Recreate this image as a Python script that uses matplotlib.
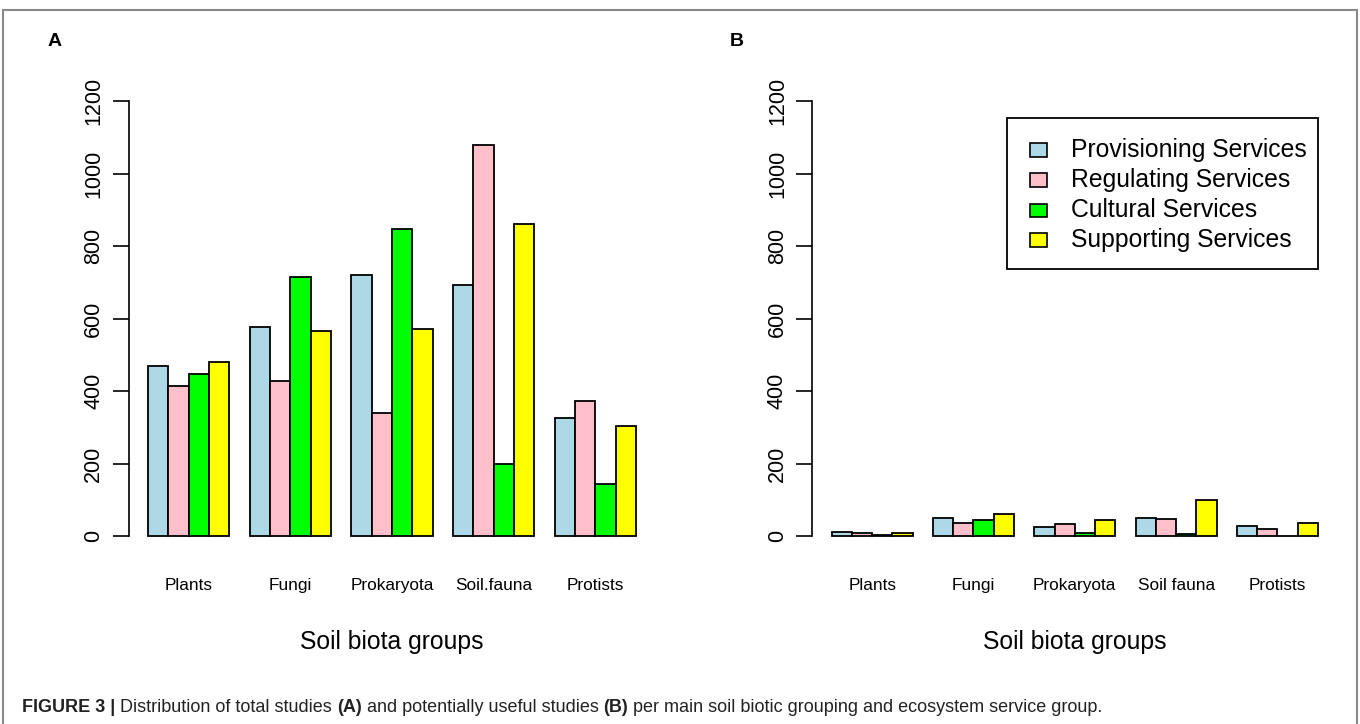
import matplotlib
matplotlib.use("Agg")
import matplotlib.pyplot as plt
from matplotlib.patches import Rectangle
import numpy as np

plt.rcParams['font.family'] = ['Liberation Sans', 'DejaVu Sans']

services = ["Provisioning Services", "Regulating Services", "Cultural Services", "Supporting Services"]
colors = ["#ADD8E6", "#FFC0CB", "#00FF00", "#FFFF00"]

groups_a = ["Plants", "Fungi", "Prokaryota", "Soil.fauna", "Protists"]
groups_b = ["Plants", "Fungi", "Prokaryota", "Soil fauna", "Protists"]

# Panel A: total studies (rows = service, cols = group)
provisioning_a = [470, 577, 721, 693, 325]
regulating_a = [414, 428, 340, 1079, 373]
cultural_a = [447, 715, 848, 198, 143]
supporting_a = [479, 566, 571, 862, 304]

# Panel B: potentially useful studies
provisioning_b = [11, 51, 24, 49, 28]
regulating_b = [7, 37, 32, 48, 18]
cultural_b = [3, 44, 9, 5, 0]
supporting_b = [9, 61, 43, 99, 37]

yticks = [0, 200, 400, 600, 800, 1000, 1200]

W, H = 1360, 724
fig = plt.figure(figsize=(W / 100, H / 100), dpi=100)

def px_axes(x0, x1, y0, y1):
    return fig.add_axes([x0 / W, 1 - y1 / H, (x1 - x0) / W, (y1 - y0) / H])

def draw_panel(ax, data, groups):
    n_s = len(data)
    for gi in range(len(groups)):
        for si in range(n_s):
            ax.bar(1 + gi * (n_s + 1) + si, data[si][gi], width=1, align='edge',
                   color=colors[si], edgecolor='black', linewidth=1.3)
    ax.set_xlim(0.04, 25.96)
    ax.set_ylim(-48, 1248)
    for s in ['top', 'right', 'bottom']:
        ax.spines[s].set_visible(False)
    ax.spines['left'].set_bounds(0, 1200)
    ax.spines['left'].set_linewidth(1.2)
    ax.set_yticks(yticks)
    ax.set_yticklabels([str(v) for v in yticks], rotation=90, va='center', fontsize=15.5)
    ax.tick_params(axis='y', length=11.5, width=1.2, pad=6)
    centers = [1 + gi * (n_s + 1) + n_s / 2 for gi in range(len(groups))]
    ax.set_xticks(centers)
    ax.set_xticklabels(groups, fontsize=12.4)
    ax.tick_params(axis='x', length=0, pad=17.5)
    ax.set_xlabel("Soil biota groups", fontsize=17.8, labelpad=27)

ax_a = px_axes(128.5, 655.5, 83.6, 553.4)
draw_panel(ax_a, [provisioning_a, regulating_a, cultural_a, supporting_a], groups_a)

ax_b = px_axes(812.2, 1337.4, 83.6, 553.4)
draw_panel(ax_b, [provisioning_b, regulating_b, cultural_b, supporting_b], groups_b)

# legend (drawn as in R's legend box)
def fx(x):
    return x / W

def fy(y):
    return 1 - y / H

fig.patches.append(Rectangle((fx(1007), fy(269)), (1318 - 1007) / W, (269 - 118) / H,
                             transform=fig.transFigure, facecolor='white', edgecolor='black',
                             linewidth=1.3, zorder=5))
row_y = [150, 180, 210, 240]
for c, lab, ry in zip(colors, services, row_y):
    fig.patches.append(Rectangle((fx(1030), fy(ry + 6.5)), 17 / W, 13 / H,
                                 transform=fig.transFigure, facecolor=c, edgecolor='black',
                                 linewidth=1.2, zorder=6))
    fig.text(fx(1071), fy(ry), lab, fontsize=17.8, va='center', ha='left', zorder=6)

fig.text(55 / W, 1 - 41 / H, "A", fontsize=14, fontweight='bold', ha='center', va='center')
fig.text(737 / W, 1 - 41 / H, "B", fontsize=14, fontweight='bold', ha='center', va='center')

# outer frame
fig.patches.append(Rectangle((3 / W, -0.01), (1357 - 3) / W, 1 - 10 / H + 0.01,
                             transform=fig.transFigure, fill=False, edgecolor='#888888',
                             linewidth=1.5))

cap_y = 1 - 707 / H
cap_size = 13
parts = [("FIGURE 3 | ", True), ("Distribution of total studies ", False), ("(A)", True),
         (" and potentially useful studies ", False), ("(B)", True),
         (" per main soil biotic grouping and ecosystem service group.", False)]
x_cur = 22 / W
for txt, bold in parts:
    t = fig.text(x_cur, cap_y, txt, fontsize=cap_size, va='center', ha='left', color='#222222',
                 fontweight='bold' if bold else 'normal')
    fig.canvas.draw()
    x_cur = t.get_window_extent().x1 / W

fig.savefig("out.png", dpi=100)
